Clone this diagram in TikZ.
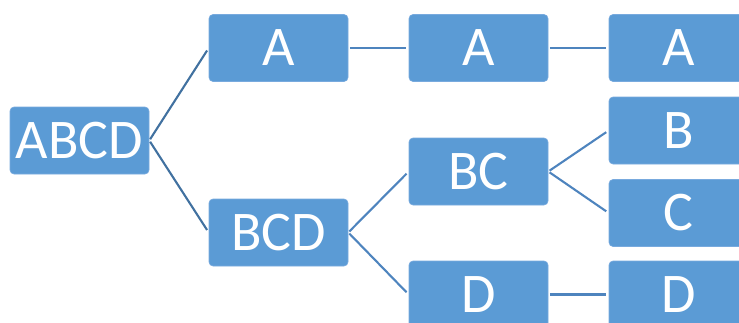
\documentclass[tikz,border=0pt]{standalone}
\usepackage{fontspec}
\setmainfont{Carlito}
\usetikzlibrary{positioning}
\definecolor{tile}{RGB}{91,155,213}
\definecolor{tileline}{RGB}{120,170,222}
\definecolor{linkdark}{RGB}{65,113,160}
\definecolor{link}{RGB}{78,132,190}
\tikzset{
  box/.style={fill=#1,draw=tileline,line width=0.6pt,rounded corners=4pt,
    minimum width=139pt,minimum height=67pt,text=white,inner sep=0pt,
    font=\fontsize{56}{60}\selectfont},
  box/.default=tile,
  link/.style={draw=#1,line width=2.1pt,shorten <=1.5pt,shorten >=3pt},
  link/.default=link,
}
\begin{document}
\begin{tikzpicture}[x=1pt,y=-1pt]
  \useasboundingbox (0,0) rectangle (739,322);
  % level 0
  \node[box] (abcd) at (79.5,140.5) {ABCD};
  % level 1
  \node[box] (a1) at (278.5,48) {A};
  \node[box] (bcd) at (278.5,232.5) {BCD};
  % level 2
  \node[box] (a2) at (478.5,48) {A};
  \node[box] (bc) at (478.5,171.5) {BC};
  \node[box] (d2) at (478.5,294.5) {D};
  % level 3
  \node[box] (a3) at (678.5,48) {A};
  \node[box] (b3) at (678.5,130.5) {B};
  \node[box] (c3) at (678.5,213) {C};
  \node[box] (d3) at (678.5,294.5) {D};
  % links
  \draw[link=linkdark] (abcd.east) -- (a1.west);
  \draw[link=linkdark] (abcd.east) -- (bcd.west);
  \draw[link] (a1.east) -- (a2.west);
  \draw[link] (a2.east) -- (a3.west);
  \draw[link] (bcd.east) -- (bc.west);
  \draw[link] (bcd.east) -- (d2.west);
  \draw[link] (bc.east) -- (b3.west);
  \draw[link] (bc.east) -- (c3.west);
  \draw[link] (d2.east) -- (d3.west);
\end{tikzpicture}
\end{document}
